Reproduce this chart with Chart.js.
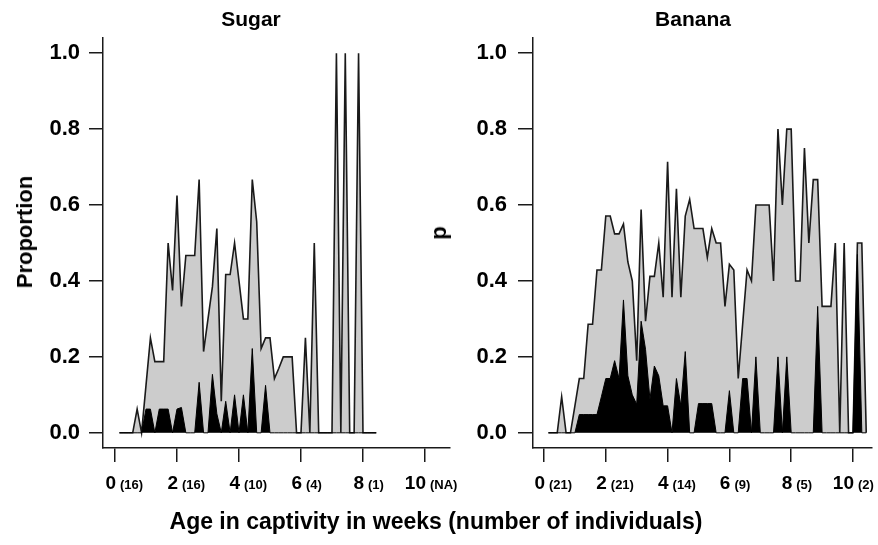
<!DOCTYPE html>
<html>
<head>
<meta charset="utf-8">
<script src="https://cdn.jsdelivr.net/npm/chart.js@4.4.1/dist/chart.umd.min.js"></script>
<style>
  body { margin: 0; background: #fff; width: 878px; height: 545px; overflow: hidden; position: relative;
         font-family: "Liberation Sans", Arial, sans-serif; font-weight: bold; color: #000; }
  .panel { position: absolute; top: 0; height: 545px; }
  .txt { position: absolute; white-space: nowrap; line-height: 1; transform: translate(-50%, -50%); }
  .rot { transform: translate(-50%, -50%) rotate(-90deg); }
</style>
</head>
<body>
<div class="panel" style="left:0;width:460px"><canvas id="sugar" width="460" height="545"></canvas></div>
<div class="panel" style="left:460px;width:418px"><canvas id="banana" width="418" height="545"></canvas></div>

<div class="txt" style="left:251px;top:18px;font-size:21px">Sugar</div>
<div class="txt" style="left:693px;top:18px;font-size:21px">Banana</div>
<div class="txt rot" style="left:25px;top:232px;font-size:22px">Proportion</div>
<div class="txt rot" style="left:439px;top:233px;font-size:22px">p</div>
<div class="txt" style="left:436px;top:521px;font-size:23px">Age in captivity in weeks (number of individuals)</div>

<script>
// proportions per day in captivity (day 1 onwards), grey = total, black = subset
const sugarTotal = [
  0, 0, 0, 0, 0.0625, 0, 0.125, 0.25, 0.1875, 0.1875,
  0.1875, 0.5, 0.375, 0.625, 0.333, 0.467, 0.467, 0.467, 0.667, 0.214,
  0.3, 0.385, 0.538, 0.083, 0.417, 0.417, 0.5, 0.4, 0.3, 0.3,
  0.667, 0.556, 0.222, 0.25, 0.25, 0.143, 0.17, 0.2, 0.2, 0.2,
  0, 0, 0.25, 0, 0.5, 0, 0, 0, 0, 1,
  0, 1, 0, 0, 1, 0, 0, 0, 0
];
const sugarBlack = [
  0, 0, 0, 0, 0, 0, 0.0625, 0.0625, 0, 0.0625,
  0.0625, 0.0625, 0, 0.0625, 0.0667, 0, 0, 0, 0.133, 0,
  0, 0.154, 0.05, 0, 0.083, 0, 0.1, 0, 0.1, 0,
  0.222, 0, 0, 0.125, 0, 0, 0, 0, 0, 0,
  0, 0, 0, 0, 0, 0, 0, 0, 0, 0,
  0, 0, 0, 0, 0, 0, 0, 0, 0
];
const bananaTotal = [
  0, 0, 0, 0.095, 0, 0, 0.071, 0.143, 0.143, 0.286,
  0.286, 0.429, 0.429, 0.571, 0.571, 0.524, 0.524, 0.55, 0.45, 0.4,
  0.19, 0.588, 0.294, 0.412, 0.412, 0.5, 0.357, 0.714, 0.357, 0.643,
  0.357, 0.571, 0.615, 0.538, 0.538, 0.538, 0.462, 0.538, 0.5, 0.5,
  0.333, 0.444, 0.429, 0.143, 0.286, 0.429, 0.4, 0.6, 0.6, 0.6,
  0.6, 0.4, 0.8, 0.6, 0.8, 0.8, 0.4, 0.4, 0.75, 0.5,
  0.667, 0.667, 0.333, 0.333, 0.333, 0.5, 0, 0.5, 0, 0,
  0.5, 0.5, 0
];
const bananaBlack = [
  0, 0, 0, 0, 0, 0, 0, 0.048, 0.048, 0.048,
  0.048, 0.048, 0.095, 0.143, 0.143, 0.19, 0.143, 0.35, 0.15, 0.1,
  0.075, 0.294, 0.22, 0.088, 0.176, 0.15, 0.071, 0.071, 0, 0.143,
  0.071, 0.214, 0, 0, 0.077, 0.077, 0.077, 0.077, 0, 0,
  0, 0.111, 0, 0, 0.143, 0.143, 0, 0.2, 0, 0,
  0, 0, 0.2, 0, 0.2, 0, 0, 0, 0, 0,
  0, 0.333, 0, 0, 0, 0, 0, 0, 0, 0,
  0.47, 0, 0
];
const weekTicks = [0, 2, 4, 6, 8, 10];
const sugarCounts = ['16', '16', '10', '4', '1', 'NA'];
const bananaCounts = ['21', '21', '14', '9', '5', '2'];
const yTicks = [0, 0.2, 0.4, 0.6, 0.8, 1.0];

const FONT = '"Liberation Sans", Arial, sans-serif';
const INK = '#1a1a1a';

// day index -> weeks
const toPoints = (vals) => vals.map((v, i) => ({ x: (i + 1) / 7, y: v }));

// number big, sample size small, like the original axis
const xLabels = {
  id: 'xLabels',
  afterDraw(chart, args, opts) {
    const ctx = chart.ctx;
    const xs = chart.scales.x;
    ctx.save();
    ctx.fillStyle = '#000';
    ctx.textBaseline = 'alphabetic';
    weekTicks.forEach((w, i) => {
      const px = xs.getPixelForValue(w);
      ctx.font = 'bold 19px ' + FONT;
      ctx.textAlign = 'right';
      ctx.fillText(String(w), px + 1, 489);
      ctx.font = 'bold 13px ' + FONT;
      ctx.textAlign = 'left';
      ctx.fillText('(' + opts.counts[i] + ')', px + 5, 489);
    });
    ctx.restore();
  }
};

function makePanel(id, total, black, counts, cfg) {
  new Chart(document.getElementById(id), {
    type: 'line',
    data: {
      datasets: [
        {
          data: toPoints(black),
          borderColor: '#000',
          backgroundColor: '#000',
          borderWidth: 1,
          fill: 'origin'
        },
        {
          data: toPoints(total),
          borderColor: INK,
          backgroundColor: '#cccccc',
          borderWidth: 1.6,
          fill: 'origin'
        }
      ]
    },
    options: {
      responsive: false,
      animation: false,
      layout: { padding: { top: 38, right: cfg.padRight, bottom: 0, left: 0 } },
      elements: { point: { radius: 0 }, line: { tension: 0 } },
      plugins: {
        legend: { display: false },
        tooltip: { enabled: false },
        xLabels: { counts: counts }
      },
      scales: {
        x: {
          type: 'linear',
          min: cfg.xMin,
          max: cfg.xMax,
          afterBuildTicks: (axis) => { axis.ticks = weekTicks.map(v => ({ value: v })); },
          afterFit: (axis) => { axis.height = 97; },
          ticks: { display: false },
          grid: { drawOnChartArea: false, drawTicks: true, tickLength: 14, color: INK, lineWidth: 1.5 },
          border: { display: true, color: INK, width: 1.5 }
        },
        y: {
          min: -0.04,
          max: 1.04,
          afterBuildTicks: (axis) => { axis.ticks = yTicks.map(v => ({ value: v })); },
          afterFit: (axis) => { axis.width = cfg.yWidth; },
          ticks: {
            color: '#000',
            padding: cfg.tickPad,
            font: { family: FONT, size: 22, weight: 'bold' },
            callback: (v) => Number(v).toFixed(1)
          },
          grid: { drawOnChartArea: false, drawTicks: true, tickLength: cfg.tickLen, color: INK, lineWidth: 1.5 },
          border: { display: true, color: INK, width: 1.5 }
        }
      }
    },
    plugins: [xLabels]
  });
}

// left panel: plot box 103..450 px, 31 px per week
makePanel('sugar', sugarTotal, sugarBlack, sugarCounts,
  { xMin: -0.387, xMax: 10.807, yWidth: 103, tickPad: 9, tickLen: 14, padRight: 10 });
// right panel: plot box 533..872 px, 30.9 px per week
makePanel('banana', bananaTotal, bananaBlack, bananaCounts,
  { xMin: -0.356, xMax: 10.615, yWidth: 73, tickPad: 11, tickLen: 15, padRight: 6 });
</script>
</body>
</html>
